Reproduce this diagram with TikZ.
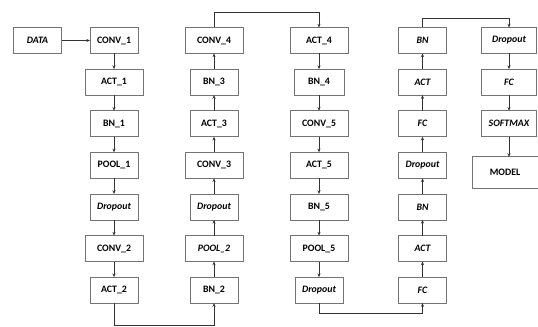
\documentclass[tikz,border=0pt]{standalone}
\usepackage{fontspec}
\setmainfont{Carlito}
\usepackage{tikz}
\usetikzlibrary{arrows.meta,positioning}

\tikzset{
  blk/.style={draw=black!55,line width=0.6pt,minimum width=1.2cm,minimum height=0.65cm,inner sep=1pt,outer sep=0pt},
  wideblk/.style={blk,minimum width=1.45cm},
  slant/.style={font=\bfseries\itshape\fontsize{7}{8}\selectfont},
  link/.style={->,draw=black!80,line width=0.5pt}
}

\begin{document}
\begin{tikzpicture}[x=0.025cm,y=-0.025cm,node distance=0.39cm,>={Stealth[length=2.6pt,width=2.2pt]}, every node/.style={font=\bfseries\fontsize{7}{8}\selectfont}]
\useasboundingbox (0,0) rectangle (538,327);
% first column
\node[blk,slant] (data) at (37.5,40.5) {DATA};
\node[blk] (conv1) at (114,40.5) {CONV\_1};
\node[wideblk,below=of conv1] (act1) {ACT\_1};
\node[blk,below=of act1] (bn1) {BN\_1};
\node[blk,below=of bn1] (pool1) {POOL\_1};
\node[blk,slant,below=of pool1] (drop1) {Dropout};
\node[wideblk,below=of drop1] (conv2) {CONV\_2};
\node[blk,below=of conv2] (act2) {ACT\_2};
% second column
\node[wideblk] (conv4) at (214,40.5) {CONV\_4};
\node[blk,below=of conv4] (bn3) {BN\_3};
\node[blk,below=of bn3] (act3) {ACT\_3};
\node[wideblk,below=of act3] (conv3) {CONV\_3};
\node[blk,slant,below=of conv3] (drop2) {Dropout};
\node[wideblk,slant,below=of drop2] (pool2) {POOL\_2};
\node[blk,below=of pool2] (bn2) {BN\_2};
% third column
\node[wideblk] (act4) at (319,40.5) {ACT\_4};
\node[blk,minimum width=1.25cm,below=of act4] (bn4) {BN\_4};
\node[wideblk,below=of bn4] (conv5) {CONV\_5};
\node[wideblk,below=of conv5] (act5) {ACT\_5};
\node[wideblk,below=of act5] (bn5) {BN\_5};
\node[wideblk,below=of bn5] (pool5) {POOL\_5};
\node[blk,slant,below=of pool5] (drop3) {Dropout};
% fourth column
\node[blk,slant,minimum width=1.18cm] (bna) at (422.5,40.5) {BN};
\node[blk,slant,minimum width=1.18cm,below=of bna] (acta) {ACT};
\node[blk,slant,minimum width=1.18cm,below=of acta] (fca) {FC};
\node[blk,slant,minimum width=1.18cm,below=of fca] (dropa) {Dropout};
\node[blk,slant,minimum width=1.18cm,below=of dropa] (bnb) {BN};
\node[blk,slant,minimum width=1.18cm,below=of bnb] (actb) {ACT};
\node[blk,slant,minimum width=1.18cm,below=of actb] (fcb) {FC};
% fifth column
\node[blk,slant,minimum width=1.38cm] (dropc) at (509,40.5) {Dropout};
\node[blk,slant,minimum width=1.38cm,below=of dropc] (fcc) {FC};
\node[blk,slant,minimum width=1.38cm,below=of fcc] (soft) {SOFTMAX};
\node[blk,minimum width=1.65cm,minimum height=0.78cm] (model) at (505,172.5) {MODEL};
% links
\draw[link] (data) -- (conv1);
\draw[link] (conv1) -- (act1);
\draw[link] (act1) -- (bn1);
\draw[link] (bn1) -- (pool1);
\draw[link] (pool1) -- (drop1);
\draw[link] (drop1) -- (conv2);
\draw[link] (conv2) -- (act2);
\draw[link] (act2.south) -- ++(0,22) -| (bn2.south);
\draw[link] (bn2) -- (pool2);
\draw[link] (pool2) -- (drop2);
\draw[link] (drop2) -- (conv3);
\draw[link] (conv3) -- (act3);
\draw[link] (act3) -- (bn3);
\draw[link] (bn3) -- (conv4);
\draw[link] (conv4.north) -- ++(0,-15.5) -| (act4.north);
\draw[link] (act4) -- (bn4);
\draw[link] (bn4) -- (conv5);
\draw[link] (conv5) -- (act5);
\draw[link] (act5) -- (bn5);
\draw[link] (bn5) -- (pool5);
\draw[link] (pool5) -- (drop3);
\draw[link] (drop3.south) -- ++(0,10) -| (fcb.south);
\draw[link] (fcb) -- (actb);
\draw[link] (actb) -- (bnb);
\draw[link] (bnb) -- (dropa);
\draw[link] (dropa) -- (fca);
\draw[link] (fca) -- (acta);
\draw[link] (acta) -- (bna);
\draw[link] (bna.north) -- ++(0,-9.5) -| (dropc.north);
\draw[link] (dropc) -- (fcc);
\draw[link] (fcc) -- (soft);
\draw[link] (soft.south) -- (soft.south |- model.north);
\end{tikzpicture}
\end{document}
